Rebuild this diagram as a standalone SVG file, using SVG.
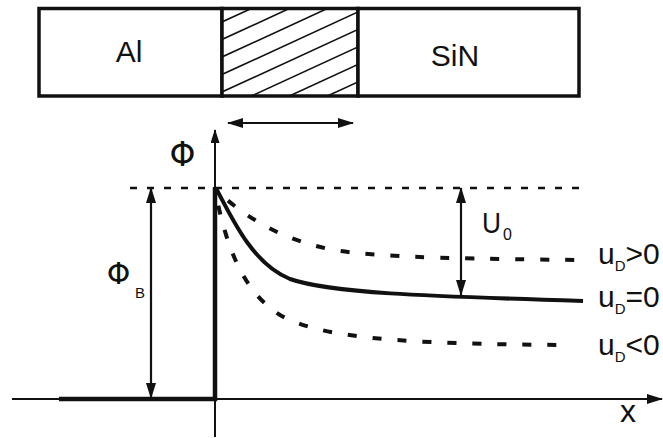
<svg xmlns="http://www.w3.org/2000/svg" width="663" height="438" viewBox="0 0 663 438">
<style>
text{font-family:"Liberation Sans",Arial,sans-serif;fill:#111}
.phi{font-family:"DejaVu Sans","Liberation Sans",sans-serif}
.box{fill:#fff;stroke:#111;stroke-width:3.5}
.hatch{stroke:#111;stroke-width:1.6;fill:none}
.thin{stroke:#111;stroke-width:2;fill:none}
.thick{stroke:#111;stroke-width:4.5;fill:none}
.dim{stroke:#111;stroke-width:2.2;fill:none}
.ref{stroke:#111;stroke-width:2.5;fill:none;stroke-dasharray:7 10}
.dash{stroke:#111;stroke-width:4;fill:none;stroke-dasharray:9 16;stroke-dashoffset:9}
.solid{stroke:#111;stroke-width:4;fill:none}
</style>
<defs>
<marker id="ah" viewBox="0 0 16 10" refX="15" refY="5" markerWidth="16" markerHeight="10" orient="auto-start-reverse" markerUnits="userSpaceOnUse"><path d="M0,0 L16,5 L0,10 z" fill="#111"/></marker>
<marker id="ahs" viewBox="0 0 14 9" refX="13" refY="4.5" markerWidth="14" markerHeight="9" orient="auto-start-reverse" markerUnits="userSpaceOnUse"><path d="M0,0 L14,4.5 L0,9 z" fill="#111"/></marker>
<clipPath id="hc"><rect x="222" y="9" width="136" height="86"/></clipPath>
</defs>

<g id="layers">
<g id="al">
<rect class="box" x="39" y="8.5" width="183" height="87.5"/>
<text x="129" y="62" font-size="30" text-anchor="middle">Al</text>
</g>
<g id="hatched">
<rect class="box" x="222" y="8.5" width="136" height="87.5"/>
<g class="hatch" clip-path="url(#hc)">
<line x1="222" y1="22" x2="358" y2="-40.6"/>
<line x1="222" y1="39.5" x2="358" y2="-23.1"/>
<line x1="222" y1="57" x2="358" y2="-5.6"/>
<line x1="222" y1="74.5" x2="358" y2="11.9"/>
<line x1="222" y1="92" x2="358" y2="29.4"/>
<line x1="222" y1="109.5" x2="358" y2="46.9"/>
<line x1="222" y1="127" x2="358" y2="64.4"/>
<line x1="222" y1="144.5" x2="358" y2="81.9"/>
</g>
</g>
<g id="sin">
<rect class="box" x="358" y="8.5" width="221" height="87.5"/>
<text x="455" y="66" font-size="30" text-anchor="middle">SiN</text>
</g>
</g>

<g id="connectors">
<line class="dim" x1="228" y1="123" x2="353" y2="123" marker-start="url(#ah)" marker-end="url(#ah)"/>
<line class="thin" x1="12" y1="399" x2="662" y2="399" marker-end="url(#ah)"/>
<line class="thin" x1="215" y1="437" x2="215" y2="130" marker-end="url(#ahs)"/>
<path class="thick" d="M59,399 H215 V187"/>
<line class="ref" x1="130" y1="188" x2="580" y2="188"/>
<line class="dim" x1="151" y1="188" x2="151" y2="398" marker-start="url(#ah)" marker-end="url(#ah)"/>
<line class="dim" x1="461" y1="188" x2="461" y2="295" marker-start="url(#ah)" marker-end="url(#ah)"/>
<path class="solid" d="M216,188 C235,225 255,265 290,279 C330,293 420,296 583,301"/>
<path class="dash" d="M216,190 C250,222 290,243 340,251 C390,258 480,259 585,260"/>
<path class="dash" d="M215,190 C225,240 240,290 280,315 C320,338 400,344 567,345"/>
</g>

<g id="labels">
<text class="phi" x="182.5" y="166" font-size="33" text-anchor="middle">Φ</text>
<text class="phi" x="118.5" y="284" font-size="30" text-anchor="middle">Φ</text>
<text x="135" y="298" font-size="15">B</text>
<text x="482" y="233" font-size="30" textLength="19" lengthAdjust="spacingAndGlyphs">U</text>
<text x="503" y="240" font-size="16">0</text>
<text x="598" y="264" font-size="30">u<tspan dy="7" font-size="15">D</tspan><tspan dy="-7">&gt;0</tspan></text>
<text x="598" y="307" font-size="30">u<tspan dy="7" font-size="15">D</tspan><tspan dy="-7">=0</tspan></text>
<text x="598" y="355" font-size="30">u<tspan dy="7" font-size="15">D</tspan><tspan dy="-7">&lt;0</tspan></text>
<text x="628" y="422" font-size="32" text-anchor="middle">x</text>
</g>
</svg>
